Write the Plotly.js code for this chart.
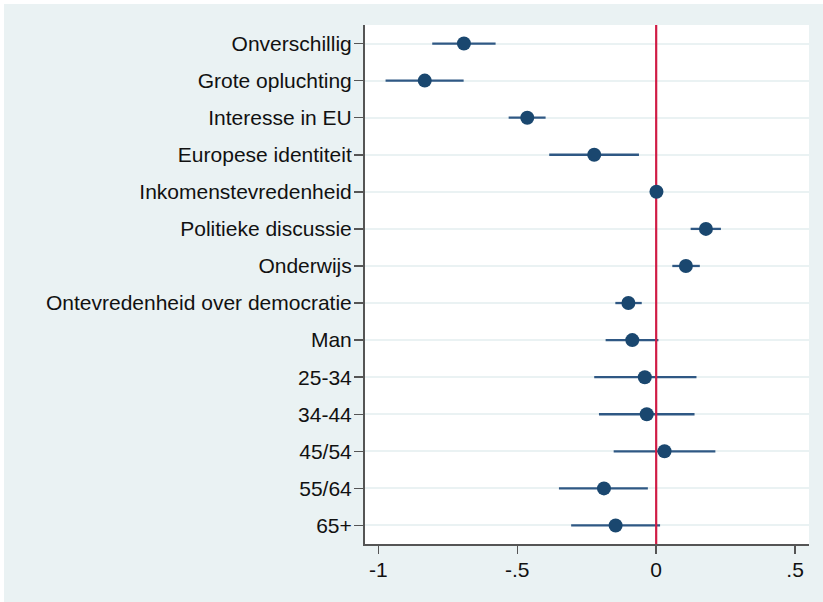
<!DOCTYPE html>
<html>
<head>
<meta charset="utf-8">
<script src="https://cdn.plot.ly/plotly-3.0.1.min.js"></script>
<style>
html,body{margin:0;padding:0;background:#ffffff;}
#chart{position:absolute;left:4px;top:4px;width:819px;height:598px;}
</style>
</head>
<body>
<div id="chart"></div>
<script>
var categories = ["Onverschillig","Grote opluchting","Interesse in EU","Europese identiteit","Inkomenstevredenheid","Politieke discussie","Onderwijs","Ontevredenheid over democratie","Man","25-34","34-44","45/54","55/64","65+"];
var coef = [-0.692,-0.833,-0.464,-0.223,0.001,0.179,0.107,-0.100,-0.086,-0.041,-0.034,0.030,-0.188,-0.146];
var ciLow = [-0.806,-0.974,-0.531,-0.385,-0.004,0.124,0.058,-0.147,-0.182,-0.223,-0.206,-0.153,-0.350,-0.306];
var ciHigh = [-0.578,-0.693,-0.398,-0.062,0.006,0.233,0.157,-0.052,0.008,0.145,0.138,0.213,-0.030,0.014];
var xTickVals = [-1,-0.5,0,0.5];
var xTickText = ["-1","-.5","0",".5"];
var refLineX = [0,0];
var refLineY = [0,1];

var plus = coef.map(function(v,i){return ciHigh[i]-v;});
var minus = coef.map(function(v,i){return v-ciLow[i];});

var navy = "#1a476f";
var ciTrace = {
  type:"scatter", mode:"markers", x:coef, y:categories,
  marker:{size:1, color:"rgba(0,0,0,0)"},
  error_x:{type:"data", symmetric:false, array:plus, arrayminus:minus, width:0, thickness:2.3, color:"#2f5884"},
  hoverinfo:"skip", showlegend:false, xaxis:"x", yaxis:"y"
};
var refTrace = {
  type:"scatter", mode:"lines", x:refLineX, y:refLineY,
  line:{color:"#d01c45", width:2.2}, showlegend:false, hoverinfo:"skip",
  xaxis:"x", yaxis:"y2"
};
var ptTrace = {
  type:"scatter", mode:"markers", x:coef, y:categories,
  marker:{size:14, color:navy}, showlegend:false,
  xaxis:"x", yaxis:"y3"
};

var fontFam = "Liberation Sans, Arial, sans-serif";
var layout = {
  width:819, height:598,
  margin:{l:361, r:14, t:21, b:58},
  paper_bgcolor:"#eaf2f3", plot_bgcolor:"#ffffff",
  font:{family:fontFam, size:21, color:"#111111"},
  showlegend:false,
  xaxis:{
    range:[-1.048,0.55], tickvals:xTickVals, ticktext:xTickText,
    showgrid:false, zeroline:false, showline:true, linecolor:"#555555", linewidth:2,
    ticks:"outside", ticklen:8, tickwidth:1.5, tickcolor:"#555555", ticklabelstandoff:-2,
    tickfont:{family:fontFam, size:21, color:"#111111"}
  },
  yaxis:{
    type:"category", categoryorder:"array", categoryarray:categories,
    range:[13.5,-0.5], showgrid:true, gridcolor:"#eaf2f3", gridwidth:2,
    zeroline:false, showline:true, linecolor:"#555555", linewidth:2,
    ticks:"outside", ticklen:9, tickwidth:1.5, tickcolor:"#555555", ticklabelstandoff:-2,
    tickfont:{family:fontFam, size:21, color:"#111111"}
  },
  yaxis2:{overlaying:"y", range:[0,1], visible:false, fixedrange:true},
  yaxis3:{overlaying:"y", type:"category", categoryorder:"array", categoryarray:categories,
    range:[13.5,-0.5], visible:false, showgrid:false}
};
Plotly.newPlot("chart",[ciTrace,refTrace,ptTrace],layout,{displayModeBar:false, staticPlot:true});
</script>
</body>
</html>
